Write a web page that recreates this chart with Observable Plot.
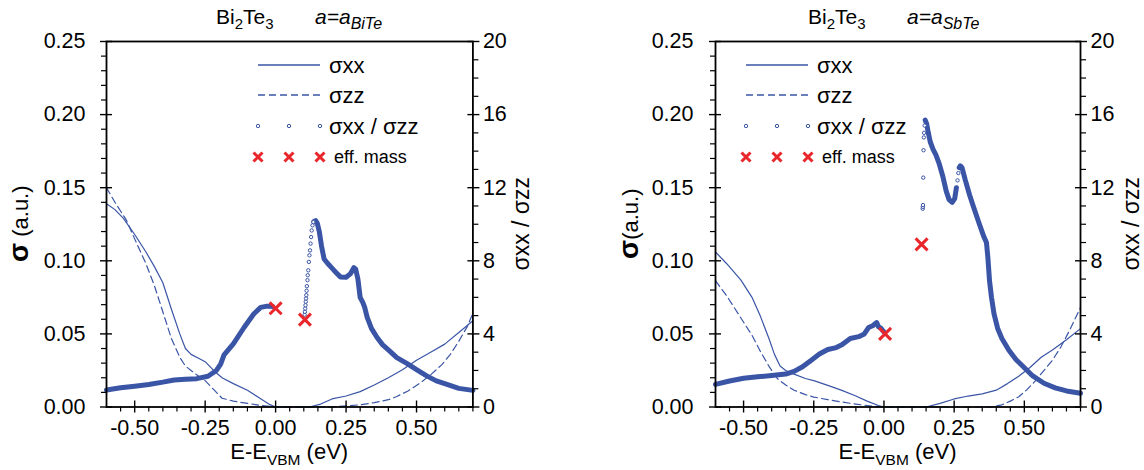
<!DOCTYPE html>
<html>
<head>
<meta charset="utf-8">
<script src="https://cdn.jsdelivr.net/npm/d3@7"></script>
<script src="https://cdn.jsdelivr.net/npm/@observablehq/plot@0.6"></script>
<style>
  html, body { margin: 0; padding: 0; background: white; }
  #wrap { display: flex; width: 1144px; height: 470px; overflow: hidden; }
  #wrap svg { display: block; }
</style>
</head>
<body>
<div id="wrap"></div>
<script>
// ---------------- data: Bi2Te3, a = a_BiTe (left panel) ----------------
const biteSxxE = [-0.6,-0.57,-0.54,-0.5,-0.46,-0.43,-0.4,-0.37,-0.34,-0.32,-0.3,-0.27,-0.25,-0.22,-0.19,-0.15,-0.1,-0.06,-0.02,0,0.12,0.16,0.2,0.25,0.3,0.35,0.4,0.45,0.5,0.55,0.6,0.65,0.7];
const biteSxx  = [0.139,0.135,0.129,0.118,0.106,0.096,0.085,0.067,0.050,0.040,0.036,0.033,0.031,0.025,0.020,0.016,0.0115,0.0065,0.0016,0,0,0.002,0.0055,0.0075,0.0105,0.015,0.020,0.0255,0.032,0.0375,0.043,0.051,0.059];
const biteSzzE = [-0.6,-0.57,-0.53,-0.5,-0.46,-0.43,-0.4,-0.37,-0.34,-0.32,-0.28,-0.25,-0.22,-0.19,-0.15,-0.1,-0.05,0,0.2,0.3,0.35,0.4,0.43,0.47,0.51,0.55,0.59,0.62,0.65,0.68,0.7];
const biteSzz  = [0.150,0.140,0.128,0.115,0.098,0.083,0.065,0.047,0.034,0.028,0.022,0.018,0.012,0.006,0.004,0.0025,0.001,0,0,0.0015,0.003,0.005,0.0072,0.011,0.016,0.022,0.029,0.036,0.045,0.055,0.064];
const biteRatio1E = [-0.6,-0.55,-0.5,-0.45,-0.4,-0.36,-0.32,-0.28,-0.24,-0.21,-0.195,-0.183,-0.15,-0.112,-0.077,-0.053,-0.03,-0.01];
const biteRatio1  = [0.93,1.05,1.14,1.23,1.36,1.48,1.52,1.55,1.68,2.0,2.35,2.85,3.45,4.35,5.1,5.45,5.52,5.5];
const biteRatioSE = [0.103,0.104,0.105,0.106,0.107,0.108,0.109,0.110,0.111,0.113,0.114,0.116,0.118,0.120,0.122,0.124,0.126,0.128,0.131,0.134];
const biteRatioS  = [5.05,5.21,5.39,5.57,5.76,5.94,6.12,6.36,6.61,6.94,7.21,7.48,7.94,8.3,8.57,8.94,9.3,9.66,9.94,10.12];
const biteRatio2E = [0.136,0.142,0.148,0.155,0.163,0.172,0.185,0.2,0.215,0.23,0.25,0.266,0.278,0.284,0.292,0.3,0.31,0.316,0.325,0.34,0.36,0.38,0.402,0.43,0.467,0.5,0.533,0.57,0.6,0.65,0.7];
const biteRatio2  = [10.15,10.2,10.05,9.6,8.8,8.1,7.85,7.6,7.35,7.12,7.1,7.3,7.63,7.55,7.0,6.0,5.7,5.45,4.9,4.3,3.8,3.4,3.1,2.7,2.37,2.05,1.73,1.43,1.28,1.02,0.91];
const biteMassE = [0.0, 0.104];
const biteMass  = [5.4, 4.78];

// ---------------- data: Bi2Te3, a = a_SbTe (right panel) ----------------
const sbteSxxE = [-0.6,-0.56,-0.51,-0.47,-0.44,-0.41,-0.39,-0.37,-0.35,-0.32,-0.28,-0.25,-0.2,-0.15,-0.1,-0.06,-0.02,0,0.15,0.2,0.25,0.3,0.35,0.4,0.44,0.48,0.52,0.56,0.6,0.65,0.7];
const sbteSxx  = [0.106,0.098,0.087,0.075,0.062,0.047,0.036,0.028,0.025,0.0225,0.0195,0.018,0.0148,0.0114,0.0075,0.004,0.001,0,0,0.0025,0.0055,0.0075,0.009,0.0115,0.016,0.021,0.027,0.034,0.039,0.046,0.0536];
const sbteSzzE = [-0.6,-0.56,-0.53,-0.5,-0.47,-0.44,-0.41,-0.38,-0.35,-0.32,-0.28,-0.25,-0.2,-0.15,-0.1,-0.04,0,0.38,0.42,0.45,0.48,0.51,0.54,0.57,0.6,0.63,0.66,0.7];
const sbteSzz  = [0.0864,0.076,0.067,0.058,0.049,0.038,0.028,0.0195,0.015,0.0115,0.0085,0.0068,0.005,0.0034,0.002,0.0005,0,0,0.0015,0.004,0.007,0.012,0.018,0.025,0.032,0.041,0.052,0.068];
const sbteRatio1E = [-0.6,-0.55,-0.5,-0.45,-0.4,-0.35,-0.32,-0.29,-0.26,-0.23,-0.2,-0.17,-0.15,-0.12,-0.09,-0.07,-0.055,-0.04,-0.026,-0.02,-0.01,0.0];
const sbteRatio1  = [1.24,1.42,1.57,1.65,1.72,1.8,1.95,2.2,2.55,2.9,3.15,3.25,3.4,3.75,3.85,4.0,4.35,4.45,4.62,4.4,4.3,4.1];
const sbteRatioSE = [0.138,0.1385,0.139,0.140,0.141,0.142,0.143,0.145,0.262,0.265];
const sbteRatioS  = [10.85,10.95,11.05,12.55,14.05,14.75,15.0,15.4,12.4,12.8];
const sbteRatio2E = [0.147,0.152,0.158,0.165,0.175,0.185,0.197,0.21,0.222,0.232,0.243,0.252,0.258];
const sbteRatio2  = [15.7,15.5,15.0,14.5,14.1,13.8,13.3,12.6,11.8,11.35,11.2,11.4,12.0];
const sbteRatio3E = [0.268,0.272,0.278,0.29,0.305,0.32,0.34,0.355,0.365,0.37,0.376,0.383,0.392,0.405,0.42,0.445,0.47,0.5,0.53,0.57,0.61,0.65,0.7];
const sbteRatio3  = [13.1,13.2,13.1,12.4,11.6,10.9,10.0,9.35,9.0,8.2,6.9,6.0,5.1,4.3,3.75,3.1,2.6,2.15,1.7,1.3,1.05,0.88,0.75];
const sbteMassE = [0.004, 0.134];
const sbteMass  = [4.0, 8.9];

// ---------------- axes ----------------
const xTicks = [-0.5, -0.25, 0, 0.25, 0.5];
const yTicks = [0, 0.05, 0.10, 0.15, 0.20, 0.25];
const ratioTicks = [0, 4, 8, 12, 16, 20];
const legendLabels = ["σxx", "σzz", "σxx / σzz", "eff. mass"];

const FONT = "'Liberation Sans', Arial, Helvetica, sans-serif";
const BLUE = "#3a55a6";
const RED = "#e8262b";
const W = 572, H = 470, MT = 41, MB = 63.5;
const RMAX = 20, YMAX = 0.25;
const toY = r => r * YMAX / RMAX;
const FS = 21.5;

const xMinor = d3.range(-0.55, 0.7001, 0.05).filter(v => Math.abs(v * 4 - Math.round(v * 4)) > 1e-6);
const yMinor = d3.range(0.01, 0.25, 0.01).filter(v => Math.abs(v * 20 - Math.round(v * 20)) > 1e-6);
const rMinor = d3.range(1, 20, 1).filter(v => v % 4 !== 0).map(toY);

const rows = (xs, ys, f = v => v, seg = 0) => xs.map((x, i) => ({x, y: f(ys[i]), seg}));

function panel(cfg) {
  const plot = Plot.plot({
    width: W, height: H,
    marginTop: MT, marginBottom: MB, marginLeft: cfg.ml, marginRight: cfg.mr,
    x: {domain: [-0.6, 0.7]},
    y: {domain: [0, YMAX]},
    style: {fontFamily: FONT, fontSize: FS + "px", color: "black", background: "white", overflow: "visible"},
    marks: [
      Plot.line(rows(cfg.sxxE, cfg.sxx), {x: "x", y: "y", stroke: BLUE, strokeWidth: 1.2}),
      Plot.line(rows(cfg.szzE, cfg.szz), {x: "x", y: "y", stroke: BLUE, strokeWidth: 1.2, strokeDasharray: "7,4"}),
      Plot.line(cfg.ratioSegs.flatMap(([xs, ys], k) => rows(xs, ys, toY, k)),
        {x: "x", y: "y", z: "seg", stroke: BLUE, strokeWidth: 5, strokeLinejoin: "round", strokeLinecap: "round"}),
      Plot.dot(rows(cfg.rsE, cfg.rs, toY), {x: "x", y: "y", r: 1.7, stroke: BLUE, strokeWidth: 1, fill: "white"}),
      Plot.dot(rows(cfg.mE, cfg.m, toY), {x: "x", y: "y", symbol: "times", r: 5.5, stroke: RED, strokeWidth: 3}),
      Plot.frame({stroke: "black", strokeWidth: 1.8}),
      Plot.axisX({ticks: xTicks, tickSize: 12, dy: -6, text: null, strokeWidth: 1.4, label: null}),
      Plot.axisX({ticks: xMinor, tickSize: 5, text: null, strokeWidth: 1.2, label: null}),
      Plot.axisX({ticks: xTicks, tickSize: 0, tickPadding: 13, tickFormat: d => d.toFixed(2), label: null, fontSize: FS}),
      Plot.axisY({ticks: yTicks, anchor: "left", tickSize: 12, dx: 6, text: null, strokeWidth: 1.4, label: null}),
      Plot.axisY({ticks: yMinor, anchor: "left", tickSize: 5, text: null, strokeWidth: 1.2, label: null}),
      Plot.axisY({ticks: yTicks, anchor: "left", tickSize: 0, tickPadding: cfg.lpad, tickFormat: d => d.toFixed(2), label: null, fontSize: FS}),
      Plot.axisY({ticks: ratioTicks.map(toY), anchor: "right", tickSize: 12, dx: -6, text: null, strokeWidth: 1.4, label: null}),
      Plot.axisY({ticks: rMinor, anchor: "right", tickSize: 5, text: null, strokeWidth: 1.2, label: null}),
      Plot.axisY({ticks: ratioTicks.map(toY), anchor: "right", tickSize: 0, tickPadding: 10, tickFormat: d => String(Math.round(d * RMAX / YMAX)), label: null, fontSize: FS})
    ]
  });

  const svg = d3.select(plot);
  const fx0 = cfg.ml, fx1 = W - cfg.mr, fy0 = MT, fy1 = H - MB;
  const txt = (sel) => sel.attr("font-family", FONT).attr("fill", "black");

  // title
  const t1 = txt(svg.append("text")).attr("x", cfg.titleX).attr("y", 24).attr("text-anchor", "start").attr("font-size", 21);
  t1.append("tspan").text("Bi");
  t1.append("tspan").attr("font-size", 15).attr("dy", 5).text("2");
  t1.append("tspan").attr("dy", -5).text("Te");
  t1.append("tspan").attr("font-size", 15).attr("dy", 5).text("3");
  const t2 = txt(svg.append("text")).attr("x", cfg.titleX + 99).attr("y", 24).attr("text-anchor", "start").attr("font-size", 21).attr("font-style", "italic");
  t2.append("tspan").text("a=a");
  t2.append("tspan").attr("font-size", 16).attr("dy", 5).text(cfg.sub);

  // x axis title
  const xt = txt(svg.append("text")).attr("x", (fx0 + fx1) / 2).attr("y", 459).attr("text-anchor", "middle").attr("font-size", 22);
  xt.append("tspan").text("E-E");
  xt.append("tspan").attr("font-size", 15.5).attr("dy", 6).text("VBM");
  xt.append("tspan").attr("dy", -6).text(" (eV)");

  // left y title
  const yl = txt(svg.append("text")).attr("transform", `translate(${cfg.ylX},${(fy0 + fy1) / 2}) rotate(-90)`)
    .attr("text-anchor", "middle").attr("dy", "0.35em").attr("font-size", 22);
  yl.append("tspan").attr("font-size", 28).attr("font-weight", "bold").text("σ");
  yl.append("tspan").text(cfg.ylGap + "(a.u.)");

  // right y title
  txt(svg.append("text")).attr("transform", `translate(${cfg.yrX},${(fy0 + fy1) / 2}) rotate(-90)`)
    .attr("text-anchor", "middle").attr("dy", "0.35em").attr("font-size", 23)
    .text("σxx / σzz");

  // legend
  const lg = svg.append("g");
  const lx0 = cfg.legX, lx1 = cfg.legX + 62, lxm = cfg.legX + 31, tx = cfg.legX + 71;
  const rowsY = [65, 95, 126, 157];
  lg.append("line").attr("x1", lx0).attr("x2", lx1).attr("y1", rowsY[0]).attr("y2", rowsY[0]).attr("stroke", BLUE).attr("stroke-width", 1.3);
  lg.append("line").attr("x1", lx0).attr("x2", lx1).attr("y1", rowsY[1]).attr("y2", rowsY[1]).attr("stroke", BLUE).attr("stroke-width", 1.3).attr("stroke-dasharray", "7,4");
  [lx0, lxm, lx1].forEach(x => {
    lg.append("circle").attr("cx", x).attr("cy", rowsY[2]).attr("r", 1.7).attr("fill", "white").attr("stroke", BLUE).attr("stroke-width", 1);
    lg.append("path").attr("d", `M${x - 4.5},${rowsY[3] - 4.5}L${x + 4.5},${rowsY[3] + 4.5}M${x - 4.5},${rowsY[3] + 4.5}L${x + 4.5},${rowsY[3] - 4.5}`)
      .attr("stroke", RED).attr("stroke-width", 3);
  });
  legendLabels.forEach((lab, i) => {
    txt(lg.append("text")).attr("x", i === 3 ? tx + 5 : tx).attr("y", rowsY[i]).attr("dy", "0.35em")
      .attr("text-anchor", "start").attr("font-size", i === 3 ? 18 : 22).text(lab);
  });
  return plot;
}

const wrap = document.getElementById("wrap");
wrap.appendChild(panel({
  ml: 106, mr: 99.6, lpad: 21, titleX: 216, sub: "BiTe", ylX: 20, ylGap: " ", yrX: 521, legX: 258,
  sxxE: biteSxxE, sxx: biteSxx, szzE: biteSzzE, szz: biteSzz,
  ratioSegs: [[biteRatio1E, biteRatio1], [biteRatio2E, biteRatio2]],
  rsE: biteRatioSE, rs: biteRatioS, mE: biteMassE, m: biteMass
}));
wrap.appendChild(panel({
  ml: 143, mr: 64, lpad: 22, titleX: 236, sub: "SbTe", ylX: 58, ylGap: "", yrX: 559, legX: 174,
  sxxE: sbteSxxE, sxx: sbteSxx, szzE: sbteSzzE, szz: sbteSzz,
  ratioSegs: [[sbteRatio1E, sbteRatio1], [sbteRatio2E, sbteRatio2], [sbteRatio3E, sbteRatio3]],
  rsE: sbteRatioSE, rs: sbteRatioS, mE: sbteMassE, m: sbteMass
}));
</script>
</body>
</html>
